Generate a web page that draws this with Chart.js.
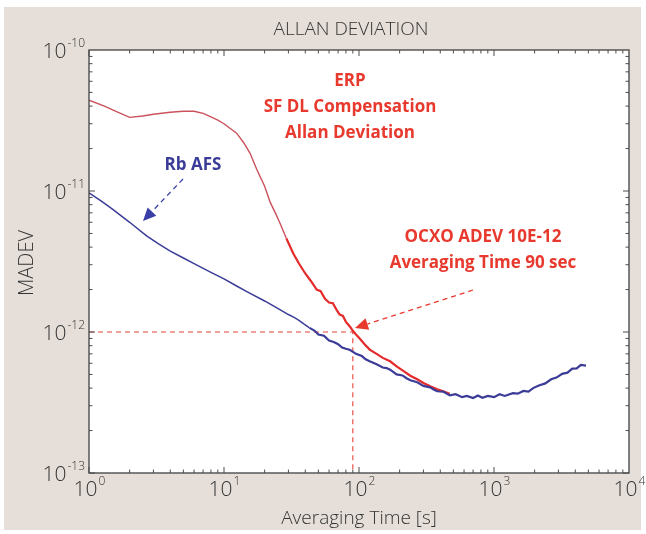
<!DOCTYPE html>
<html>
<head>
<meta charset="utf-8">
<title>Allan Deviation</title>
<script src="https://cdn.jsdelivr.net/npm/chart.js@4.4.1/dist/chart.umd.min.js"></script>
<style>
  html, body { margin: 0; padding: 0; background: #ffffff; }
  canvas { display: block; }
</style>
</head>
<body>
<canvas id="adev" width="646" height="534"></canvas>
<script>
(function () {
    'use strict';

    // Rb AFS reference (blue)
    var rbTau = [1, 1.25, 1.5, 2, 2.67, 3.3, 4, 5, 6, 8, 10, 12.4, 15, 20, 25, 30, 33, 35, 39, 43, 47, 50, 55,
        60, 65, 70, 75, 80, 86, 95, 105, 112, 120, 135, 150, 160, 170, 190, 210, 225, 240, 270, 300, 336, 360,
        380, 420, 470, 520, 580, 630, 700, 760, 820, 900, 1000, 1100, 1200, 1380, 1500, 1650, 1800, 1950,
        2150, 2400, 2650, 2900, 3200, 3500, 3800, 4100, 4400, 4800];
    var rbDev = [9.7e-12, 8.4e-12, 7.4e-12, 6.0e-12, 4.8e-12, 4.2e-12, 3.75e-12, 3.35e-12, 3.05e-12,
        2.65e-12, 2.38e-12, 2.12e-12, 1.92e-12, 1.66e-12, 1.47e-12, 1.33e-12, 1.27e-12, 1.23e-12, 1.14e-12,
        1.07e-12, 1.02e-12, 0.96e-12, 0.94e-12, 0.87e-12, 0.85e-12, 0.82e-12, 0.775e-12, 0.76e-12,
        0.745e-12, 0.70e-12, 0.675e-12, 0.64e-12, 0.62e-12, 0.59e-12, 0.56e-12, 0.555e-12, 0.54e-12,
        0.50e-12, 0.492e-12, 0.47e-12, 0.455e-12, 0.44e-12, 0.415e-12, 0.405e-12, 0.39e-12, 0.38e-12,
        0.378e-12, 0.355e-12, 0.362e-12, 0.345e-12, 0.352e-12, 0.34e-12, 0.355e-12, 0.342e-12, 0.352e-12,
        0.345e-12, 0.362e-12, 0.352e-12, 0.368e-12, 0.365e-12, 0.382e-12, 0.378e-12, 0.40e-12,
        0.418e-12, 0.432e-12, 0.462e-12, 0.475e-12, 0.505e-12, 0.515e-12, 0.55e-12, 0.552e-12,
        0.585e-12, 0.578e-12];

    // ERP SF DL compensation (red)
    var erpTau = [1, 1.3, 1.6, 2, 2.5, 3, 4, 5, 6, 7, 8, 9, 10, 11, 12.4, 14, 15.6, 17.5, 20, 22,
        24, 26, 29, 32.6, 36, 40, 44, 48.6, 52, 56, 60, 64, 68.4, 72, 76, 80, 85.8, 90, 95, 100,
        110, 120, 135, 150, 170, 190, 210, 240, 270, 300, 340, 380, 420, 470];
    var erpDev = [4.4e-11, 4.0e-11, 3.65e-11, 3.33e-11, 3.4e-11, 3.5e-11, 3.62e-11, 3.68e-11, 3.68e-11,
        3.55e-11, 3.35e-11, 3.18e-11, 3.0e-11, 2.8e-11, 2.57e-11, 2.2e-11, 1.85e-11, 1.42e-11,
        1.08e-11, 8.3e-12, 7.0e-12, 5.9e-12, 4.6e-12, 3.6e-12, 3.05e-12, 2.6e-12, 2.3e-12, 2.0e-12,
        1.95e-12, 1.72e-12, 1.62e-12, 1.6e-12, 1.43e-12, 1.33e-12, 1.3e-12, 1.18e-12, 1.09e-12,
        1.02e-12, 0.96e-12, 0.91e-12, 0.82e-12, 0.75e-12, 0.70e-12, 0.655e-12, 0.62e-12, 0.57e-12,
        0.535e-12, 0.49e-12, 0.462e-12, 0.435e-12, 0.41e-12, 0.392e-12, 0.38e-12, 0.365e-12];

    // OCXO spec marker: 10E-12 at 90 s
    var markTau = [1, 90, 90];
    var markDev = [1e-12, 1e-12, 1e-13];

    var xExp = [0, 1, 2, 3, 4];
    var yExp = [-10, -11, -12, -13];

    function pts(xs, ys) {
        return xs.map(function (x, i) { return { x: x, y: ys[i] }; });
    }

    var RED = '#e8392e';
    var BLUE = '#3b3c98';
    var AXIS = '#4d4d4d';
    var LIGHT = '300 20px "Open Sans", sans-serif';

    function drawPow(ctx, exp, x, y, align) {
        var base = '10', sup = String(exp);
        ctx.font = '300 21px "Open Sans", sans-serif';
        var wb = ctx.measureText(base).width;
        ctx.font = '300 12px "Open Sans", sans-serif';
        var ws = ctx.measureText(sup).width;
        var left = align === 'right' ? x - wb - ws : x - (wb + ws) / 2;
        ctx.textAlign = 'left';
        ctx.textBaseline = 'middle';
        ctx.font = '300 21px "Open Sans", sans-serif';
        ctx.fillText(base, left, y);
        ctx.font = '300 12px "Open Sans", sans-serif';
        ctx.fillText(sup, left + wb + 1, y - 8);
    }

    function arrow(ctx, x0, y0, x1, y1, color) {
        var ang = Math.atan2(y1 - y0, x1 - x0);
        var len = 13, half = 6;
        var bx = x1 - len * Math.cos(ang), by = y1 - len * Math.sin(ang);
        ctx.save();
        ctx.strokeStyle = color;
        ctx.fillStyle = color;
        ctx.lineWidth = 1.3;
        ctx.setLineDash([5, 4]);
        ctx.beginPath();
        ctx.moveTo(x0, y0);
        ctx.lineTo(bx, by);
        ctx.stroke();
        ctx.setLineDash([]);
        ctx.beginPath();
        ctx.moveTo(x1, y1);
        ctx.lineTo(bx + half * Math.sin(ang), by - half * Math.cos(ang));
        ctx.lineTo(bx - half * Math.sin(ang), by + half * Math.cos(ang));
        ctx.closePath();
        ctx.fill();
        ctx.restore();
    }

    var framePlugin = {
        id: 'frame',
        beforeDraw: function (chart) {
            var ctx = chart.ctx, a = chart.chartArea;
            ctx.save();
            ctx.fillStyle = '#ffffff';
            ctx.fillRect(0, 0, chart.width, chart.height);
            ctx.fillStyle = '#e6dfd9';
            ctx.fillRect(4, 7, 637, 523);
            ctx.fillStyle = '#ffffff';
            ctx.fillRect(a.left, a.top, a.right - a.left, a.bottom - a.top);
            ctx.restore();
        },
        afterDraw: function (chart) {
            var ctx = chart.ctx, a = chart.chartArea;
            var xs = chart.scales.x, ys = chart.scales.y;
            ctx.save();

            // box
            ctx.strokeStyle = AXIS;
            ctx.lineWidth = 1.4;
            ctx.strokeRect(a.left, a.top, a.right - a.left, a.bottom - a.top);

            // inward ticks, all four sides
            ctx.lineWidth = 1;
            var d, m, p, len;
            for (d = 0; d < 4; d++) {
                for (m = 1; m <= 9; m++) {
                    p = xs.getPixelForValue(m * Math.pow(10, d));
                    len = m === 1 ? 6 : 3.5;
                    ctx.beginPath();
                    ctx.moveTo(p, a.bottom); ctx.lineTo(p, a.bottom - len);
                    ctx.moveTo(p, a.top); ctx.lineTo(p, a.top + len);
                    ctx.stroke();
                }
            }
            for (d = -13; d < -10; d++) {
                for (m = 1; m <= 9; m++) {
                    p = ys.getPixelForValue(m * Math.pow(10, d));
                    len = m === 1 ? 6 : 3.5;
                    ctx.beginPath();
                    ctx.moveTo(a.left, p); ctx.lineTo(a.left + len, p);
                    ctx.moveTo(a.right, p); ctx.lineTo(a.right - len, p);
                    ctx.stroke();
                }
            }

            // tick labels
            ctx.fillStyle = '#333333';
            xExp.forEach(function (e) {
                drawPow(ctx, e, xs.getPixelForValue(Math.pow(10, e)), a.bottom + 17, 'center');
            });
            yExp.forEach(function (e) {
                drawPow(ctx, e, a.left - 5, ys.getPixelForValue(Math.pow(10, e)) + 2, 'right');
            });

            // titles
            ctx.textAlign = 'center';
            ctx.textBaseline = 'middle';
            ctx.font = '300 19px "Open Sans", sans-serif';
            ctx.fillText('ALLAN DEVIATION', 351, 30);
            ctx.fillText('Averaging Time [s]', 359, 519);
            ctx.save();
            ctx.translate(27, 263);
            ctx.rotate(-Math.PI / 2);
            ctx.font = LIGHT;
            ctx.fillText('MADEV', 0, 0);
            ctx.restore();

            // annotations
            ctx.font = 'bold 17px "Open Sans", sans-serif';
            ctx.fillStyle = RED;
            ctx.fillText('ERP', 350, 81);
            ctx.fillText('SF DL Compensation', 350, 107);
            ctx.fillText('Allan Deviation', 350, 133);
            ctx.fillText('OCXO ADEV 10E-12', 483, 237);
            ctx.fillText('Averaging Time 90 sec', 483, 263);
            ctx.fillStyle = BLUE;
            ctx.fillText('Rb AFS', 193, 165);

            arrow(ctx, 183, 179, 143, 221, '#3a3fa8');
            arrow(ctx, 473, 290, 355, 328, RED);

            ctx.restore();
        }
    };

    var config = {
        type: 'scatter',
        data: {
            datasets: [{
                label: 'Rb AFS',
                data: pts(rbTau, rbDev),
                showLine: true,
                borderColor: BLUE,
                borderWidth: 1.5,
                pointRadius: 0,
                segment: {
                    borderWidth: function (c) { return c.p0.parsed.x > 40 ? 2.2 : 1.5; }
                }
            }, {
                label: 'ERP',
                data: pts(erpTau, erpDev),
                showLine: true,
                borderColor: '#c9525c',
                borderWidth: 1.4,
                pointRadius: 0,
                segment: {
                    borderColor: function (c) { return c.p0.parsed.x > 28 ? '#e42a2a' : '#c9525c'; },
                    borderWidth: function (c) { return c.p0.parsed.x > 28 ? 2.2 : 1.4; }
                }
            }, {
                label: 'OCXO',
                data: pts(markTau, markDev),
                showLine: true,
                borderColor: '#e4443a',
                borderWidth: 1.1,
                borderDash: [5, 4],
                pointRadius: 0
            }]
        },
        options: {
            responsive: false,
            animation: false,
            layout: { padding: { left: 89, right: 17, top: 50, bottom: 61 } },
            plugins: {
                legend: { display: false },
                tooltip: { enabled: false }
            },
            scales: {
                x: { type: 'logarithmic', min: 1, max: 1e4, display: false },
                y: { type: 'logarithmic', min: 1e-13, max: 1e-10, display: false }
            }
        },
        plugins: [framePlugin]
    };

    var ctx = document.getElementById('adev').getContext('2d');
    var chart = new Chart(ctx, config);
})();
</script>
</body>
</html>
